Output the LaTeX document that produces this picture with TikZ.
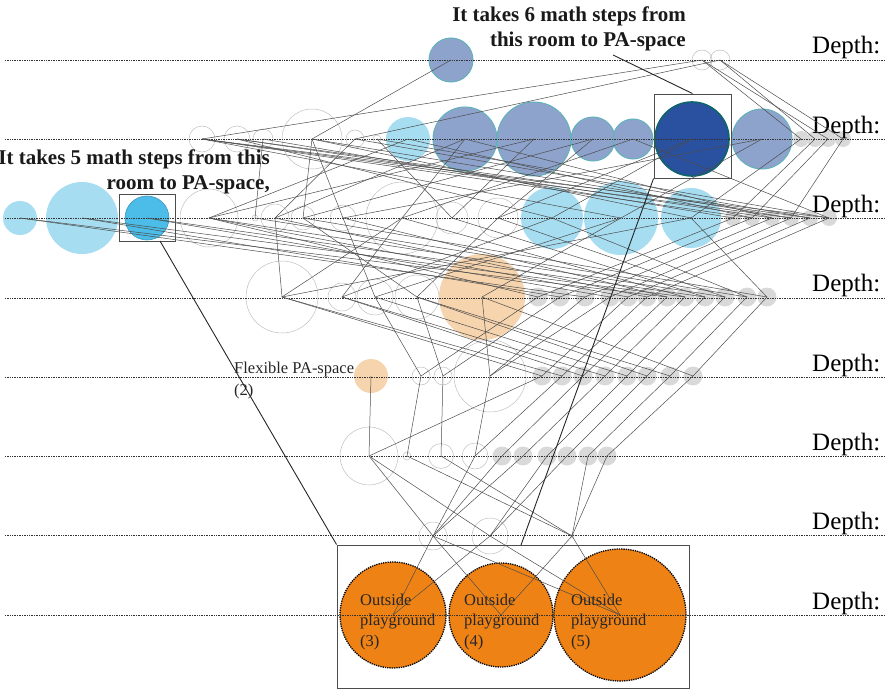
\documentclass[tikz,border=0pt]{standalone}
\usepackage{fontspec}
\setmainfont{Liberation Serif}

\definecolor{skyroom}{HTML}{A6DDF0}
\definecolor{brightroom}{HTML}{4BBDE8}
\definecolor{slateroom}{HTML}{8EA3CC}
\definecolor{slateedge}{HTML}{62B2BC}
\definecolor{navyroom}{HTML}{2A50A0}
\definecolor{navyedge}{HTML}{0E6468}
\definecolor{peachroom}{HTML}{F6D4AE}
\definecolor{playorange}{HTML}{EF8214}
\definecolor{greyroom}{HTML}{D9D9D9}

\tikzset{
    room/.style={circle, draw=black!25, line width=0.5pt, inner sep=0pt},
    skynode/.style={circle, fill=skyroom, inner sep=0pt},
    brightnode/.style={circle, fill=brightroom, draw=brightroom!80!black, line width=0.6pt, inner sep=0pt},
    slatenode/.style={circle, fill=slateroom, draw=slateedge, line width=1pt, inner sep=0pt},
    navynode/.style={circle, fill=navyroom, draw=navyedge, line width=1.6pt, inner sep=0pt},
    peachnode/.style={circle, fill=peachroom, inner sep=0pt},
    greynode/.style={circle, fill=greyroom, inner sep=0pt, minimum size=19pt},
    playground/.style={circle, fill=playorange, draw=black, densely dotted, line width=1.3pt, inner sep=0pt},
    depthline/.style={densely dotted, black!80, line width=0.7pt},
    depthlabel/.style={anchor=base west, inner sep=0pt, font=\fontsize{25}{30}\selectfont},
    link/.style={black!70, line width=0.5pt},
    callout/.style={black!85, line width=0.9pt},
    calloutbox/.style={draw=black!70, line width=0.9pt, inner sep=0pt},
    callouttext/.style={anchor=north east, inner sep=0pt, align=right, text=black!90, font=\bfseries\fontsize{21}{24.5}\selectfont},
    playtext/.style={anchor=north west, inner sep=0pt, align=left, text=black!85, font=\fontsize{16.5}{20.5}\selectfont},
    flextext/.style={anchor=north west, inner sep=0pt, align=left, text=black!85, font=\fontsize{16.5}{22}\selectfont}
}

\begin{document}
\begin{tikzpicture}[x=1pt, y=-1pt]
        \useasboundingbox (0,0) rectangle (885,690);

        % rooms at depth row 0
        \node[slatenode, minimum size=44] (a1) at (451,60) {};
        \node[room, minimum size=20] (a2) at (702,60) {};
        \node[room, minimum size=20] (a3) at (720,60) {};

        % rooms at depth row 1
        \node[room, minimum size=26] (b1) at (202,139) {};
        \node[room, minimum size=26] (b2) at (237,139) {};
        \node[room, minimum size=20] (b3) at (263,139) {};
        \node[room, minimum size=60] (b4) at (312,139) {};
        \node[room, minimum size=18] (b5) at (355,139) {};
        \node[room, minimum size=8] (b6) at (377,139) {};
        \node[skynode, minimum size=44] (b7) at (408,139) {};
        \node[slatenode, minimum size=64] (b8) at (465,139) {};
        \node[slatenode, minimum size=74] (b9) at (534,139) {};
        \node[slatenode, minimum size=44] (b10) at (593,139) {};
        \node[slatenode, minimum size=40] (b11) at (633,139) {};
        \node[slatenode, minimum size=60] (b13) at (762,139) {};
        \node[navynode, minimum size=74] (b12) at (692,139) {};
        \foreach \x [count=\i from 14] in {801,815,828,843}
            \node[greynode, minimum size=16] (b\i) at (\x,139) {};

        % rooms at depth row 2
        \node[skynode, minimum size=34] (c1) at (20,218) {};
        \node[skynode, minimum size=72] (c2) at (82,218) {};
        \node[brightnode, minimum size=44] (c3) at (147,218) {};
        \node[room, minimum size=58] (c4) at (209,218) {};
        \node[room, minimum size=6] (c5) at (255,218) {};
        \node[room, minimum size=28] (c6) at (275,218) {};
        \node[room, minimum size=24] (c7) at (303,218) {};
        \node[room, minimum size=26] (c8) at (343,218) {};
        \node[room, minimum size=72] (c9) at (402,218) {};
        \node[room, minimum size=32] (c10) at (452,218) {};
        \node[room, minimum size=40] (c11) at (498,218) {};
        \node[skynode, minimum size=62] (c12) at (552,218) {};
        \node[skynode, minimum size=74] (c13) at (621,218) {};
        \node[skynode, minimum size=60] (c14) at (691,218) {};
        \foreach \x [count=\i from 15] in {733,752,772,791,810,829}
            \node[greynode, minimum size=16] (c\i) at (\x,218) {};

        % rooms at depth row 3
        \node[room, minimum size=72] (d1) at (282,297) {};
        \node[room, minimum size=28] (d2) at (342,297) {};
        \node[room, minimum size=36] (d3) at (375,297) {};
        \node[room, minimum size=44] (d4) at (417,297) {};
        \node[peachnode, minimum size=86] (d5) at (482,297) {};
        \foreach \x [count=\i from 6] in {538,560,585,610,628,647,667,685,705,725,747,767}
            \node[greynode] (d\i) at (\x,297) {};

        % rooms at depth row 4
        \node[peachnode, minimum size=34] (e1) at (371,376) {};
        \node[room, minimum size=18] (e2) at (421,376) {};
        \node[room, minimum size=18] (e3) at (443,376) {};
        \node[room, minimum size=72] (e4) at (490,376) {};
        \foreach \x [count=\i from 5] in {542,562,583,605,627,647,670,693}
            \node[greynode] (e\i) at (\x,376) {};

        % rooms at depth row 5
        \node[room, minimum size=58] (f1) at (369,456) {};
        \node[room, minimum size=8] (f2) at (407,456) {};
        \node[room, minimum size=25] (f3) at (441,456) {};
        \node[room, minimum size=26] (f4) at (475,456) {};
        \foreach \x [count=\i from 5] in {502,523,547,567,588,607}
            \node[greynode] (f\i) at (\x,456) {};

        % rooms at depth row 6
        \node[room, minimum size=28] (g1) at (433,536) {};
        \node[room, minimum size=36] (g2) at (490,536) {};
        \node[room, minimum size=4] (g3) at (572,536) {};

        % the outside playground at depth row 7
        \node[playground, minimum size=106] (h1) at (393,615) {};
        \node[playground, minimum size=104] (h2) at (501,615) {};
        \node[playground, minimum size=132] (h3) at (620,615) {};

        % draw the depth lines and labels
        \foreach \k in {0,...,7} {
            \draw[depthline] (5,{60+79.3*\k}) -- (885,{60+79.3*\k});
            \node[depthlabel] (depth\k) at (812,{54+79.3*\k}) {Depth:};
        }

        % draw the links between rooms
        \foreach \p/\c in {a1/b4, a2/b1, a3/b5, a2/b14, a2/b16, a3/b15, a3/b17,
                b1/c16, b1/c18, b1/c20, b1/c13, b2/c17, b2/c19, b2/c12,
                b3/c5, b3/c15, b4/c7, b4/c8, b4/c14, b4/c18, b5/c6, b5/c19,
                b6/c20, b6/c10, b7/c4, b7/c16, b8/c9, b8/c6, b8/c17,
                b9/c10, b9/c4, b10/c11, b10/c7, b11/c9, b11/c20,
                b12/c12, b12/c11, b13/c13, b13/c8,
                b14/c14, b15/c15, b16/c16, b17/c18}
            \draw[link] (\p.center) -- (\c.center);
        \foreach \p/\c in {c1/d8, c1/d12, c2/d7, c2/d13, c3/d9, c3/d14,
                c4/d6, c4/d15, c4/d10, c5/d16, c6/d1, c6/d11, c7/d17, c7/d4,
                c8/d12, c8/d3, c9/d1, c9/d13, c9/d2, c10/d14, c11/d4, c11/d15,
                c12/d2, c12/d16, c13/d3, c13/d5, c14/d1, c14/d17,
                c15/d6, c16/d7, c17/d8, c18/d9, c19/d10, c20/d11}
            \draw[link] (\p.center) -- (\c.center);
        \foreach \p/\c in {d1/e5, d1/e6, d2/e7, d2/e8, d3/e9, d3/e2,
                d4/e10, d4/e11, d4/e3, d5/e4, d5/e12,
                d6/e2, d7/e3, d8/e4, d9/e4,
                d10/e5, d11/e6, d12/e7, d13/e8, d14/e9, d15/e10, d16/e11, d17/e12}
            \draw[link] (\p.center) -- (\c.center);
        \foreach \p/\c in {e1/f1, e2/f2, e3/f3, e4/f4, e5/f1, e6/f4,
                e7/f5, e8/f6, e9/f7, e10/f8, e11/f9, e12/f10}
            \draw[link] (\p.center) -- (\c.center);
        \foreach \p/\c in {f1/g1, f1/g2, f2/g3, f3/g3, f4/g1,
                f5/g1, f6/g1, f7/g2, f8/g2, f9/g3, f10/g3,
                g1/h1, g1/h2, g1/h3, g2/h1, g2/h3, g3/h2, g3/h3}
            \draw[link] (\p.center) -- (\c.center);

        % draw the boxes round the marked rooms
        \node[calloutbox, minimum width=56, minimum height=47] (box1) at (147,217.5) {};
        \node[calloutbox, minimum width=77, minimum height=84] (box2) at (692.5,136) {};
        \node[calloutbox, minimum width=352, minimum height=143] (box3) at (513,616.5) {};

        % draw the callouts
        \node[callouttext] (steps5) at (270,150) {It takes 5 math steps from this\\room to PA-space,};
        \node[callouttext] (steps6) at (686,7) {It takes 6 math steps from\\this room to PA-space};
        \coordinate (p1) at (160,241);
        \coordinate (p2) at (613,55);
        \coordinate (p3) at (521,545);
        \draw[callout] (p1) -- (box3.north west);
        \draw[callout] (p2) -- (box2.north);
        \draw[callout] (box2.south west) -- (p3);

        % label the rooms
        \node[flextext] (flex) at (234,362) {Flexible PA-space\\(2)};
        \node[playtext] (out3) at (360,593.5) {Outside\\playground\\(3)};
        \node[playtext] (out4) at (464,593.5) {Outside\\playground\\(4)};
        \node[playtext] (out5) at (571,593.5) {Outside\\playground\\(5)};
    \end{tikzpicture}
\end{document}
